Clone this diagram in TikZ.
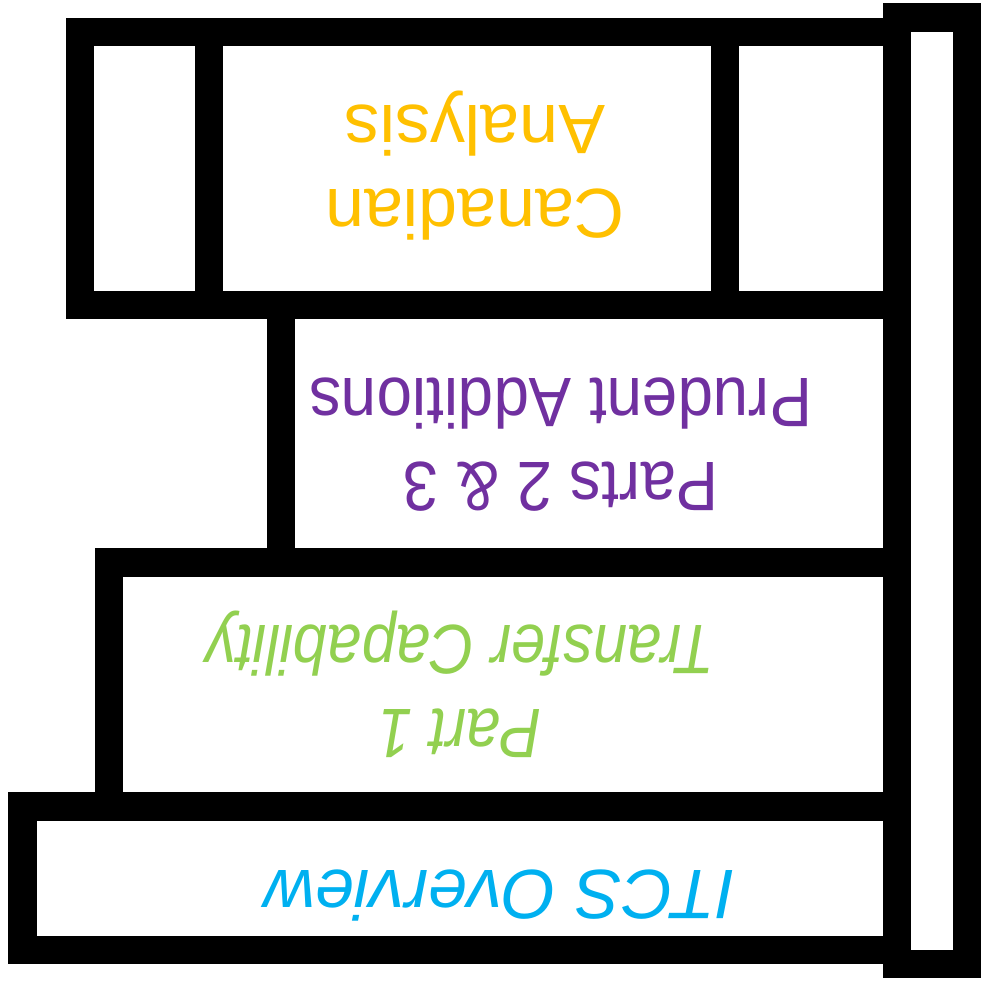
\documentclass[tikz,border=0pt]{standalone}
\usepackage{fontspec}
\setsansfont{Liberation Sans}
\usepackage{tikz}
\usetikzlibrary{positioning}

\definecolor{canorange}{HTML}{FFC000}
\definecolor{prudpurple}{HTML}{7030A0}
\definecolor{tcgreen}{HTML}{92D050}
\definecolor{itcsblue}{HTML}{00B0F0}

\begin{document}
\begin{tikzpicture}[
    x=1pt, y=-1pt,
    font=\sffamily\fontsize{70}{84}\selectfont,
    frame/.style={
        draw=black,
        line width=28.4pt,
        line join=miter
    },
    label/.style={
        rotate=180,
        align=center,
        inner sep=0pt
    },
    slanted/.style={
        font=\sffamily\itshape\fontsize{70}{84}\selectfont
    }
]
    \useasboundingbox (0,0) rectangle (981,987);
    %% ITCS Overview
    \draw[frame] (22.5,806.5) rectangle (897,949.8);
    %% Part 1
    \draw[frame] (109.2,562.5) rectangle (897,806.5);
    %% Parts 2 & 3
    \draw[frame] (281.2,304.8) rectangle (897,562.5);
    %% Canadian Analysis
    \draw[frame] (80.2,32.2) rectangle (897,304.8);
    \draw[frame] (209.2,32.2) -- (209.2,304.8);
    \draw[frame] (725.2,32.2) -- (725.2,304.8);
    %% Seitenleiste
    \draw[frame] (897.2,17.5) rectangle (966.8,964);

    %% Texte
    \node[label, text=canorange] (can) at (475,166) {Canadian\\Analysis};
    \node[label, text=prudpurple, xscale=0.91] (prud) at (561,445) {Parts 2 \& 3\\Prudent Additions};
    \node[label, slanted, text=tcgreen, xscale=0.875] (tc) at (460,684) {Part 1\\Transfer Capability};
    \node[label, slanted, text=itcsblue] (itcs) at (500,896) {ITCS Overview};
\end{tikzpicture}
\end{document}
